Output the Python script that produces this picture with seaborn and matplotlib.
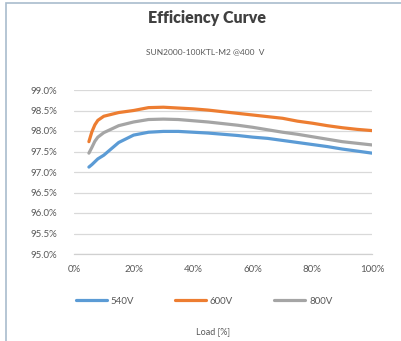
import matplotlib
matplotlib.use("Agg")
import matplotlib.pyplot as plt
from matplotlib.patches import Rectangle
from matplotlib.ticker import FuncFormatter
import seaborn as sns
import pandas as pd

# load points (%)
load = [5, 6, 7, 8, 10, 15, 20, 25, 30, 35, 40, 45, 50, 55, 60, 65, 70, 75, 80, 85, 90, 95, 100]
eff_540 = [97.12, 97.18, 97.25, 97.32, 97.41, 97.72, 97.90, 97.97, 97.99, 97.99, 97.97, 97.95, 97.92,
           97.89, 97.85, 97.82, 97.77, 97.72, 97.67, 97.62, 97.56, 97.51, 97.46]
eff_600 = [97.74, 97.98, 98.15, 98.26, 98.36, 98.45, 98.50, 98.57, 98.58, 98.56, 98.54, 98.51, 98.47,
           98.43, 98.39, 98.35, 98.31, 98.24, 98.19, 98.13, 98.08, 98.04, 98.01]
eff_800 = [97.46, 97.60, 97.75, 97.85, 97.96, 98.13, 98.22, 98.28, 98.29, 98.28, 98.25, 98.22, 98.18,
           98.14, 98.09, 98.03, 97.97, 97.92, 97.86, 97.80, 97.74, 97.70, 97.66]
series = ['540V', '600V', '800V']
colors = ['#5b9bd5', '#ed7d31', '#a5a5a5']

df = pd.concat([
    pd.DataFrame({'load': load, 'eff': eff_540, 'volt': '540V'}),
    pd.DataFrame({'load': load, 'eff': eff_600, 'volt': '600V'}),
    pd.DataFrame({'load': load, 'eff': eff_800, 'volt': '800V'}),
])

sns.set_style('white')
plt.rcParams['font.family'] = ['Lato', 'DejaVu Sans']
txt = '#595959'

fig = plt.figure(figsize=(4.01, 3.41), dpi=100)
ax = fig.add_axes([74/401, 1-254/341, (372-74)/401, (254-90)/341])

sns.lineplot(data=df, x='load', y='eff', hue='volt', hue_order=series,
             palette=colors, linewidth=2.3, ax=ax, legend=False)

ax.set_xlim(0, 100)
ax.set_ylim(95, 99)
ax.set_xticks([0, 20, 40, 60, 80, 100])
ax.set_yticks([95 + 0.5*i for i in range(9)])
ax.xaxis.set_major_formatter(FuncFormatter(lambda v, p: '%d%%' % v))
ax.yaxis.set_major_formatter(FuncFormatter(lambda v, p: '%.1f%%' % v))
ax.tick_params(axis='both', length=0, labelsize=7, labelcolor=txt)
ax.tick_params(axis='x', pad=8)
ax.tick_params(axis='y', pad=12)
ax.grid(axis='y', color='#d9d9d9', linewidth=0.9)
ax.set_axisbelow(True)
for s in ['top', 'right', 'left']:
    ax.spines[s].set_visible(False)
ax.spines['bottom'].set_color('#d0d0d0')
ax.spines['bottom'].set_linewidth(0.9)
ax.set_xlabel('')
ax.set_ylabel('')

fig.text(207/401, 1-18/341, 'Efficiency Curve', ha='center', va='center',
         fontsize=11.5, fontweight='heavy', color='#404040')
fig.text(205/401, 1-52/341, 'SUN2000-100KTL-M2 @400  V', ha='center', va='center',
         fontsize=6, color=txt)
fig.text(213/401, 1-332/341, 'Load [%]', ha='center', va='center', fontsize=6.5, color=txt)

handles = [plt.Line2D([], [], color=c, lw=2.3) for c in colors]
fig.legend(handles, series, loc='center', bbox_to_anchor=(204/401, 1-301/341), ncol=3,
           frameon=False, fontsize=7, labelcolor=txt, handlelength=3.2, columnspacing=4.2,
           handletextpad=0.4)

# chart frame
fig.patches.append(Rectangle((6/401, -0.1), 1.2, 1.1 - 3/341, transform=fig.transFigure,
                             fill=False, edgecolor='#a9bccd', linewidth=1.2))

fig.savefig('out.png', dpi=100)
